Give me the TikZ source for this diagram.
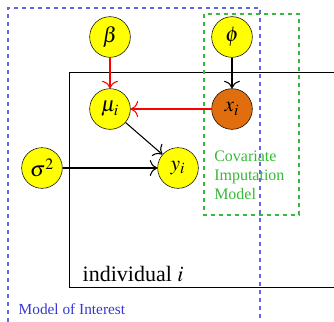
\documentclass[tikz,border=0pt]{standalone}
\usepackage{mathptmx}
\usepackage{fontspec}
\setmainfont{Liberation Serif}
\usetikzlibrary{arrows.meta,positioning}
\definecolor{nodeyellow}{rgb}{1.00,1.00,0.00}
\definecolor{covorange}{rgb}{0.88,0.43,0.06}
\definecolor{interestblue}{rgb}{0.40,0.40,0.86}
\definecolor{interesttext}{rgb}{0.22,0.22,0.82}
\definecolor{imputegreen}{rgb}{0.22,0.72,0.22}

\begin{document}
\begin{tikzpicture}[x=0.75pt,y=-0.75pt,
   var/.style={draw,circle,minimum size=30.5pt,inner sep=0pt,fill=nodeyellow,
               font=\fontsize{16}{18}\selectfont},
   arr/.style={-{To[length=2mm]},thick}]
  \useasboundingbox (0,0) rectangle (334,321);
  \clip (0,0) rectangle (334,321);
  % plate and model boxes
  \draw (340,72) -- (69,72) -- (69,287) -- (340,287);
  \draw[interestblue,dashed,thick] (8,330) -- (8,8) -- (260,8) -- (260,330);
  \draw[imputegreen,dashed,thick] (204,14) rectangle (299,215);
  \node[anchor=base west,font=\fontsize{16.5}{18}\selectfont] (ind) at (78,281) {individual $i$};
  \node[anchor=base west,text=interesttext,font=\fontsize{11.5}{13}\selectfont] (moi) at (14,314) {Model of Interest};
  \node[anchor=north west,align=left,inner sep=0pt,text=imputegreen,
        font=\fontsize{12}{14}\selectfont] (cim) at (214,151) {Covariate\\Imputation\\Model};
  % variables
  \node[var] (beta) at (110,37) {$\beta$};
  \node[var] (phi) at (232,37) {$\phi$};
  \node[var] (mu) at (110,109) {$\mu_i$};
  \node[var,fill=covorange] (x) at (232,109) {$x_i$};
  \node[var] (sig) at (42,168) {$\sigma^2$};
  \node[var] (y) at (178,168) {$y_i$};
  \draw[arr,red] (beta) -- (mu);
  \draw[arr] (phi) -- (x);
  \draw[arr,red] (x) -- (mu);
  \draw[arr] (mu) -- (y);
  \draw[arr] (sig) -- (y);
\end{tikzpicture}
\end{document}
